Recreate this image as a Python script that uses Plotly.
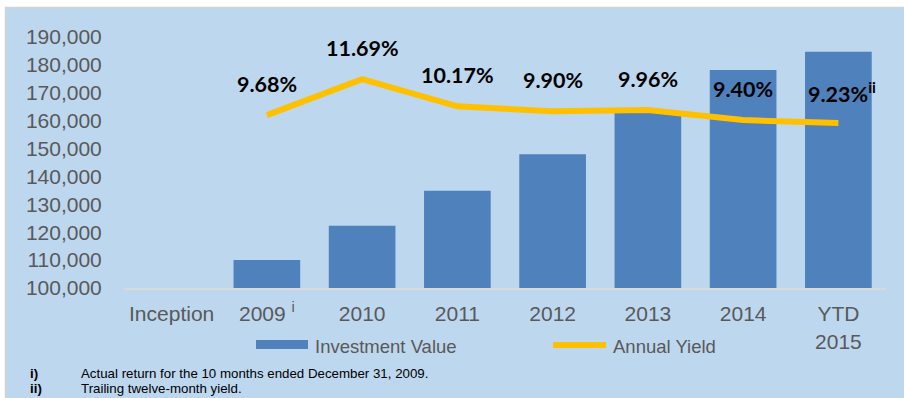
import plotly.graph_objects as go

categories = ["Inception", "2009", "2010", "2011", "2012", "2013", "2014", "YTD 2015"]
tick_labels = ["Inception", "2009 <sup>i</sup>", "2010", "2011", "2012", "2013", "2014", "YTD<br>2015"]
investment_value = [100000, 110000, 122300, 134900, 148000, 163000, 178200, 184700]

yield_categories = ["2009", "2010", "2011", "2012", "2013", "2014", "YTD 2015"]
annual_yield = [9.68, 11.69, 10.17, 9.90, 9.96, 9.40, 9.23]
yield_labels = ["9.68%", "11.69%", "10.17%", "9.90%", "9.96%", "9.40%", "9.23%<sup>ii</sup>"]

footnote_marks = ["i)", "ii)"]
footnote_texts = ["Actual return for the 10 months ended December 31, 2009.",
                  "Trailing twelve-month yield."]

BG = "#BDD7EE"
BAR = "#4F81BD"
LINE = "#FFC000"
GRAY = "#595959"

W, H = 904, 398
L, R, T, B = 124, 18, 37, 110
PW, PH = W - L - R, H - T - B


def px_x(p):
    return (p - L) / PW


def px_y(p):
    return (H - B - p) / PH


fig = go.Figure()
fig.add_trace(go.Bar(
    x=categories, y=investment_value, name="Investment Value",
    marker=dict(color=BAR, line=dict(width=0)),
    width=0.7, showlegend=False,
))
fig.add_trace(go.Scatter(
    x=yield_categories, y=annual_yield, name="Annual Yield", yaxis="y2",
    mode="lines", line=dict(color=LINE, width=6), showlegend=False,
))

annotations = []
for c, v, t in zip(yield_categories, annual_yield, yield_labels):
    annotations.append(dict(
        x=categories.index(c), y=v, xref="x", yref="y2", text="<b>" + t + "</b>", showarrow=False,
        yshift=31, xshift=(4 if "sup" in t else 0),
        font=dict(family="Lato, Carlito, Calibri, sans-serif", size=21.5, color="#000000"),
    ))

# custom legend
shapes = [
    dict(type="rect", xref="paper", yref="paper", layer="below",
         x0=px_x(5.5), x1=px_x(910), y0=px_y(7.5), y1=px_y(410),
         fillcolor=BG, line=dict(color="#D4D4D4", width=1.5)),
    dict(type="rect", xref="paper", yref="paper",
         x0=px_x(256), x1=px_x(308), y0=px_y(349), y1=px_y(340),
         fillcolor=BAR, line=dict(width=0)),
    dict(type="line", xref="paper", yref="paper",
         x0=px_x(553), x1=px_x(606), y0=px_y(345), y1=px_y(345),
         line=dict(color=LINE, width=6)),
]
annotations += [
    dict(x=px_x(313), y=px_y(346), xref="paper", yref="paper", text="Investment Value",
         showarrow=False, xanchor="left", yanchor="middle",
         font=dict(family="Liberation Sans, Arial", size=18.5, color=GRAY)),
    dict(x=px_x(611), y=px_y(346), xref="paper", yref="paper", text="Annual Yield",
         showarrow=False, xanchor="left", yanchor="middle",
         font=dict(family="Liberation Sans, Arial", size=18.5, color=GRAY)),
]
for i, (m, t) in enumerate(zip(footnote_marks, footnote_texts)):
    yy = px_y(373 + 15 * i)
    annotations.append(dict(x=px_x(28), y=yy, xref="paper", yref="paper", text="<b>" + m + "</b>",
                            showarrow=False, xanchor="left", yanchor="middle",
                            font=dict(family="Liberation Sans, Arial", size=13.3, color="#000000")))
    annotations.append(dict(x=px_x(79), y=yy, xref="paper", yref="paper", text=t,
                            showarrow=False, xanchor="left", yanchor="middle",
                            font=dict(family="Liberation Sans, Arial", size=13.3, color="#000000")))

fig.update_layout(
    width=W, height=H,
    margin=dict(l=L, r=R, t=T, b=B, pad=0),
    paper_bgcolor="#FFFFFF", plot_bgcolor="rgba(0,0,0,0)",
    showlegend=False, bargap=0.3,
    font=dict(family="Liberation Sans, Arial", size=21, color=GRAY),
    xaxis=dict(
        type="category", categoryorder="array", categoryarray=categories,
        tickvals=categories, ticktext=tick_labels, range=[-0.5, 7.5],
        showline=True, linecolor="#D9D9D9", linewidth=2,
        ticks="outside", ticklen=6, tickcolor="rgba(0,0,0,0)",
        showgrid=False, zeroline=False,
        tickfont=dict(size=21, color=GRAY),
    ),
    yaxis=dict(
        range=[100000, 190000], dtick=10000, tickformat=",",
        showgrid=False, zeroline=False, showline=False,
        ticks="outside", ticklen=17, tickcolor="rgba(0,0,0,0)",
        tickfont=dict(size=21, color=GRAY),
    ),
    yaxis2=dict(overlaying="y", range=[0, 14.05], visible=False),
    shapes=shapes, annotations=annotations,
)

fig.write_html("out.html")
